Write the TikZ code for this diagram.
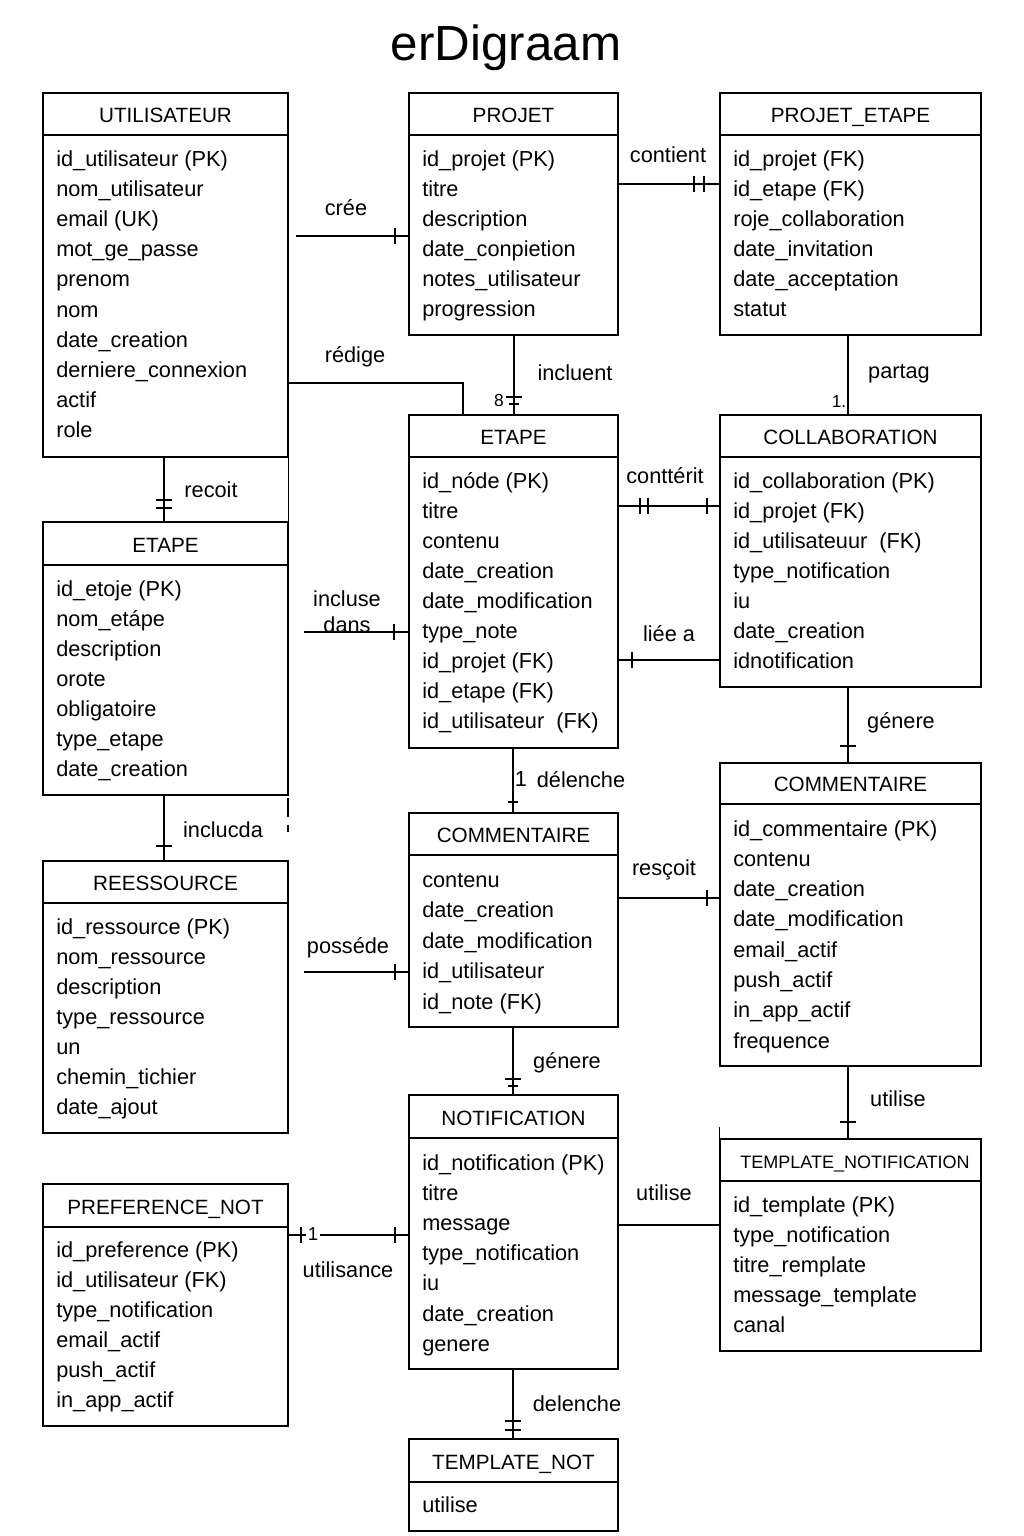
\documentclass[tikz,border=0pt]{standalone}
\usepackage{fontspec}
\setmainfont{Liberation Sans}
\usetikzlibrary{calc}
\tikzset{
  ebox/.style={draw, line width=1pt, inner sep=0pt, rectangle},
  eline/.style={line width=1pt},
  etitle/.style={font=\fontsize{15.5}{18}\selectfont, inner sep=0pt},
  attr/.style={font=\fontsize{16.3}{19}\selectfont, inner sep=0pt, anchor=base west},
  lbl/.style={font=\fontsize{16.3}{19}\selectfont, inner sep=0pt, anchor=base},
  small/.style={font=\fontsize{13}{15}\selectfont, inner sep=0pt, anchor=base},
  conn/.style={line width=0.9pt},
  tk/.style={line width=0.9pt}
}
\newcommand{\ent}[7]{%
  \node[ebox, minimum width={(#4-#2)*0.75pt}, minimum height={(#5-#3)*0.75pt}] (#1) at ({(#2+#4)/2},{(#3+#5)/2}) {};
  \draw[eline] (#1.west |- 0,#6) -- (#1.east |- 0,#6);
  \node[etitle, anchor=base] (#1-title) at ({(#2+#4)/2},{#6-13}) {#7};
}
\newcommand{\attrs}[5]{%
  \foreach \a [count=\i] in {#5} \node[attr] (#1-a\i) at (#2, {#3+(\i-1)*#4}) {\a};
}
\newcommand{\htk}[2]{\draw[tk] (#1,#2-8) -- (#1,#2+8);}
\newcommand{\vtk}[2]{\draw[tk] (#1-8,#2) -- (#1+8,#2);}
\begin{document}
\begin{tikzpicture}[x=0.75pt, y=-0.75pt]
\useasboundingbox (0,0) rectangle (1024,1536);
\fill[white] (0,0) rectangle (1024,1536);

\node[font=\fontsize{37}{42}\selectfont, inner sep=0pt, anchor=base] (title) at (506,60) {erDigraam};

% ---------- entities ----------
\ent{util}{43}{93}{288}{457}{135}{UTILISATEUR}
\attrs{util}{56}{166}{30.2}{id\_utilisateur (PK), nom\_utilisateur, email (UK), mot\_ge\_passe, prenom, nom, date\_creation, derniere\_connexion, actif, role}

\ent{projet}{409}{93}{618}{335}{135}{PROJET}
\attrs{projet}{422}{166}{30}{id\_projet (PK), titre, description, date\_conpietion, notes\_utilisateur, progression}

\ent{pe}{720}{93}{981}{335}{135}{PROJET\_ETAPE}
\attrs{pe}{733}{166}{30.1}{id\_projet (FK), id\_etape (FK), roje\_collaboration, date\_invitation, date\_acceptation, statut}

\ent{etapeM}{409}{415}{618}{748}{457}{ETAPE}
\attrs{etapeM}{422}{488}{30}{id\_nóde (PK), titre, contenu, date\_creation, date\_modification, type\_note, id\_projet (FK), id\_etape (FK), id\_utilisateur\ \ (FK)}

\ent{collab}{720}{415}{981}{687}{457}{COLLABORATION}
\attrs{collab}{733}{488}{30}{id\_collaboration (PK), id\_projet (FK), id\_utilisateuur\ \ (FK), type\_notification, iu, date\_creation, idnotification}

\ent{etapeL}{43}{522}{288}{795}{565}{ETAPE}
\attrs{etapeL}{56}{596}{30}{id\_etoje (PK), nom\_etápe, description, orote, obligatoire, type\_etape, date\_creation}

\ent{ress}{43}{861}{288}{1133}{903}{REESSOURCE}
\attrs{ress}{56}{934}{30}{id\_ressource (PK), nom\_ressource, description, type\_ressource, un, chemin\_tichier, date\_ajout}

\ent{commM}{409}{813}{618}{1027}{855}{COMMENTAIRE}
\attrs{commM}{422}{887}{30.5}{contenu, date\_creation, date\_modification, id\_utilisateur, id\_note (FK)}

\ent{commR}{720}{763}{981}{1066}{804}{COMMENTAIRE}
\attrs{commR}{733}{836}{30.3}{id\_commentaire (PK), contenu, date\_creation, date\_modification, email\_actif, push\_actif, in\_app\_actif, frequence}

\ent{notif}{409}{1095}{618}{1369}{1138}{NOTIFICATION}
\attrs{notif}{422}{1170}{30.2}{id\_notification (PK), titre, message, type\_notification, iu, date\_creation, genere}

\node[ebox, minimum width={261*0.75pt}, minimum height={212*0.75pt}] (tn) at (850.5,1245) {};
\draw[eline] (tn.west |- 0,1181) -- (tn.east |- 0,1181);
\node[font=\fontsize{13.5}{16}\selectfont, inner sep=0pt, anchor=base] (tn-title) at (855,1168) {TEMPLATE\_NOTIFICATION};
\attrs{tn}{733}{1212}{30}{id\_template (PK), type\_notification, titre\_remplate, message\_template, canal}

\ent{pref}{43}{1184}{288}{1426}{1227}{PREFERENCE\_NOT}
\attrs{pref}{56}{1257}{30}{id\_preference (PK), id\_utilisateur (FK), type\_notification, email\_actif, push\_actif, in\_app\_actif}

\ent{tnot}{409}{1439}{618}{1531}{1482}{TEMPLATE\_NOT}
\attrs{tnot}{422}{1512}{30}{utilise}

% ---------- connectors ----------
% cree
\coordinate (creeS) at (296,236);
\draw[conn] (creeS) -- (projet.west |- creeS);
\htk{395}{236}
\node[lbl] (l-cree) at (346,215) {crée};

% contient
\draw[conn] (projet.east |- 0,184) -- (pe.west |- 0,184);
\htk{694}{184} \htk{704}{184}
\node[lbl] (l-contient) at (668,162) {contient};

% redige
\draw[conn] (util.east |- 0,383) -| (etapeM.north -| 463,0);
\node[lbl] (l-redige) at (355,362) {rédige};

% incluent
\draw[conn] (projet.south -| 514,0) -- (etapeM.north -| 514,0);
\vtk{514}{397}
\draw[tk] (509,404) -- (519,404);
\node[small] (l-8) at (499,406) {8};
\node[lbl] (l-incluent) at (575,380) {incluent};

% partag
\draw[conn] (pe.south -| 848,0) -- (collab.north -| 848,0);
\node[small] (l-1a) at (839,407) {1.};
\node[lbl] (l-partag) at (899,378) {partag};

% recoit
\draw[conn] (util.south -| 164,0) -- (etapeL.north -| 164,0);
\vtk{164}{500} \vtk{164}{508}
\node[lbl] (l-recoit) at (211,497) {recoit};
\draw[eline] (util.south east) -- (etapeL.north east);

% contterit
\draw[conn] (etapeM.east |- 0,506) -- (collab.west |- 0,506);
\htk{640}{506} \htk{648}{506} \htk{707}{506}
\node[lbl] (l-contterit) at (665,483) {conttérit};

% incluse dans
\coordinate (incS) at (304,632);
\draw[conn] (incS) -- (etapeM.west |- incS);
\htk{394}{632}
\node[lbl] (l-incluse) at (347,606) {incluse};
\node[lbl] (l-dans) at (347,632) {dans};

% liee a
\draw[conn] (etapeM.east |- 0,660) -- (collab.west |- 0,660);
\htk{632}{660}
\node[lbl] (l-liee) at (669,641) {liée a};

% genere (right)
\draw[conn] (collab.south -| 848,0) -- (commR.north -| 848,0);
\vtk{848}{746}
\node[lbl] (l-genereR) at (901,728) {génere};

% delenche (middle)
\draw[conn] (etapeM.south -| 513,0) -- (commM.north -| 513,0);
\draw[tk] (508,802) -- (518,802);
\node[lbl] (l-un) at (521,786) {1};
\node[lbl] (l-delencheM) at (581,787) {délenche};

% inclucda
\draw[conn] (etapeL.south -| 164,0) -- (ress.north -| 164,0);
\vtk{164}{846}
\node[lbl] (l-inclucda) at (223,837) {inclucda};
\coordinate (dashA) at (288,798);
\coordinate (dashB) at (288,832);
\draw[conn, dash pattern=on 14pt off 6pt] (dashA) -- (dashB);

% rescoit
\draw[conn] (commM.east |- 0,898) -- (commR.west |- 0,898);
\htk{707}{898}
\node[lbl] (l-rescoit) at (664,875) {resçoit};

% possede
\coordinate (posS) at (304,972);
\draw[conn] (posS) -- (commM.west |- posS);
\htk{395}{972}
\node[lbl] (l-possede) at (348,953) {posséde};

% genere (middle)
\draw[conn] (commM.south -| 513,0) -- (notif.north -| 513,0);
\vtk{513}{1079}
\draw[tk] (508,1086) -- (518,1086);
\node[lbl] (l-genereM) at (567,1068) {génere};

% utilise (vertical)
\draw[conn] (commR.south -| 848,0) -- (tn.north -| 848,0);
\vtk{848}{1122}
\node[lbl] (l-utiliseV) at (898,1106) {utilise};
\draw[conn] (tn.north west) -- ++(0,-11);

% utilise (horizontal)
\draw[conn] (notif.east |- 0,1225) -- (tn.west |- 0,1225);
\node[lbl] (l-utiliseH) at (664,1200) {utilise};

% utilisance
\draw[conn] (pref.east |- 0,1235) -- (notif.west |- 0,1235);
\htk{301}{1235} \htk{395}{1235}
\node[small, fill=white, inner sep=1.5pt, font=\fontsize{14}{16}\selectfont] (l-1b) at (313,1240) {1};
\node[lbl] (l-utilisance) at (348,1277) {utilisance};

% delenche (bottom)
\draw[conn] (notif.south -| 513,0) -- (tnot.north -| 513,0);
\vtk{513}{1421} \vtk{513}{1430}
\node[lbl] (l-delencheB) at (577,1411) {delenche};

\end{tikzpicture}
\end{document}
